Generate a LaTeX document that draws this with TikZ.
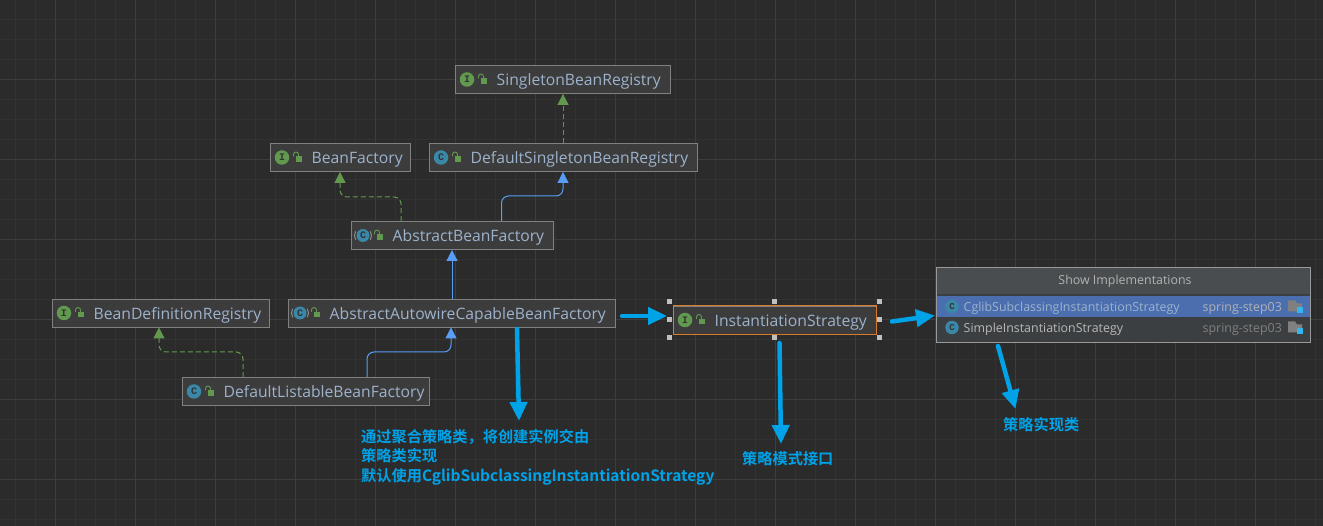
\documentclass[tikz,border=0pt]{standalone}
\usepackage{fontspec}
\setmainfont{Open Sans}
\newfontfamily\cjkbold[BoldFont=Noto Sans CJK SC Bold]{Noto Sans CJK SC}
\newfontfamily\iconfont{Liberation Mono}
\usetikzlibrary{arrows.meta}
\definecolor{canvasbg}{HTML}{2B2B2B}
\definecolor{gridminor}{HTML}{323232}
\definecolor{gridmajor}{HTML}{3D3D3D}
\definecolor{boxfill}{HTML}{3C3C3C}
\definecolor{boxline}{HTML}{808080}
\definecolor{boxtext}{HTML}{9DB2CC}
\definecolor{implgreen}{HTML}{62994F}
\definecolor{extblue}{HTML}{589DF6}
\definecolor{noteblue}{HTML}{00A2E8}
\definecolor{classteal}{HTML}{3A87A8}
\definecolor{popupbody}{HTML}{3C3F41}
\definecolor{popuphead}{HTML}{4A4D4F}
\definecolor{popupsel}{HTML}{4B6EAF}
\definecolor{selorange}{HTML}{D97B29}
\tikzset{
	umlbox/.style={draw=boxline, fill=boxfill, line width=0.9pt, inner sep=0pt},
	umltext/.style={text=boxtext, font=\fontsize{15.7}{18}\selectfont, anchor=base west, inner sep=0pt},
	kindicon/.style={circle, minimum size=14.5pt, inner sep=0pt, text=black!80, font=\iconfont\fontsize{10}{10}\selectfont\bfseries},
	impl/.style={draw=implgreen, dashed, dash pattern=on 5pt off 3pt, line width=1pt, rounded corners=7pt, -{Triangle[width=11pt,length=11pt,fill=implgreen]}},
	ext/.style={draw=extblue, line width=1pt, rounded corners=7pt, -{Triangle[width=11pt,length=11pt,fill=extblue]}},
	note/.style={draw=noteblue, line width=4.5pt, line cap=round, -{Triangle[width=17pt,length=19pt,fill=noteblue]}},
	notetext/.style={text=noteblue, font=\cjkbold\fontsize{15.2}{19.5}\selectfont\bfseries, anchor=north west, align=left, inner sep=0pt},
	handle/.style={fill=black!25!white, minimum size=5pt, inner sep=0pt},
	popuptext/.style={font=\fontsize{12.4}{14}\selectfont, anchor=base west, inner sep=0pt}
}
\begin{document}
\begin{tikzpicture}[x=1pt, y=-1pt]
	\fill[canvasbg] (0,0) rectangle (1323,526);
	\useasboundingbox (0,0) rectangle (1323,526);

	% grid
	\foreach \gx in {0,...,66}
		\draw[gridminor, line width=0.8pt] (15.5+\gx*20,0) -- (15.5+\gx*20,526);
	\foreach \gy in {0,...,26}
		\draw[gridminor, line width=0.8pt] (0,19+\gy*20) -- (1323,19+\gy*20);
	\foreach \gx in {0,...,15}
		\draw[gridmajor, line width=0.8pt] (55.5+\gx*80,0) -- (55.5+\gx*80,526);
	\foreach \gy in {0,...,5}
		\draw[gridmajor, line width=0.8pt] (0,79+\gy*80) -- (1323,79+\gy*80);

	% boxes
	\foreach \nm/\xl/\xr/\yt/\kind/\txt in {
		sbr/455.5/670.5/65.5/I/SingletonBeanRegistry,
		dsbr/429.5/697/143.5/C/DefaultSingletonBeanRegistry,
		bf/270.5/410/143.5/I/BeanFactory,
		abf/351.5/553/221.5/A/AbstractBeanFactory,
		bdr/52.5/269/299/I/BeanDefinitionRegistry,
		aacbf/288.5/615/299/A/AbstractAutowireCapableBeanFactory,
		dlbf/182.5/429.5/377.5/C/DefaultListableBeanFactory,
		is/673.5/876/306/I/InstantiationStrategy}
	{
		\node[umlbox, minimum width=\xr pt-\xl pt, minimum height=28pt] (\nm) at ({(\xl+\xr)/2},\yt+14) {};
		\if\kind I
			\node[kindicon, fill=implgreen] (\nm icon) at (\xl+11.5,\yt+14) {I};
		\else
			\if\kind C
				\node[kindicon, fill=classteal] (\nm icon) at (\xl+11.5,\yt+14) {C};
			\else
				\node[kindicon, fill=classteal, minimum size=13pt] (\nm icon) at (\xl+11.5,\yt+14) {C};
				\draw[black!45!white, line width=1pt] (\xl+11.5,\yt+14) ++(150:8.5) arc (150:210:8.5);
				\draw[black!45!white, line width=1pt] (\xl+11.5,\yt+14) ++(30:8.5) arc (30:-30:8.5);
			\fi
		\fi
		% lock
		\fill[implgreen] (\xl+25,\yt+13) rectangle (\xl+31.5,\yt+18.5);
		\draw[implgreen, line width=0.9pt] (\xl+23,\yt+13) -- (\xl+23,\yt+11) arc (180:360:2.5) -- (\xl+28,\yt+13);
		\node[umltext] (\nm text) at (\xl+41,\yt+20.5) {\txt};
	}

	% selected node
	\draw[draw=selorange, line width=0.9pt] (is.south west) rectangle (is.north east);
	\foreach \hx/\hy/\hn in {669/302/a, 774/302/b, 879/302/c, 669/320/d, 879/320/e, 669/338/f, 774/338/g, 879/338/h}
		\node[handle] (handle\hn) at (\hx,\hy) {};

	% inheritance
	\draw[impl] (dsbr.north -| 563,0) -- (sbr.south -| 563,0);
	\draw[ext] (abf.north -| 501.5,0) -- (501.5,196) -| (dsbr.south -| 563,0);
	\draw[impl] (abf.north -| 401,0) -- (401,197) -| (bf.south -| 340,0);
	\draw[ext] (aacbf.north -| 452,0) -- (abf.south -| 452,0);
	\draw[impl] (dlbf.north -| 243,0) -- (243,352) -| (bdr.south -| 159,0);
	\draw[ext] (dlbf.north -| 367,0) -- (367,352) -| (aacbf.south -| 451,0);

	% popup
	\fill[popupbody] (936.5,267) rectangle (1310,342);
	\fill[popuphead] (936.5,267) rectangle (1310,294);
	\fill[popupsel] (936.5,296) rectangle (1310,317);
	\draw[black!40!white, line width=0.9pt] (936.5,267) rectangle (1310,342);
	\node[popuptext, text=black!30!white, anchor=center] (popuptitle) at (1125,281) {Show Implementations};
	\foreach \ry/\rt/\rc/\rf in {306.5/CglibSubclassingInstantiationStrategy/boxtext/black!30!white, 327.5/SimpleInstantiationStrategy/black!28!white/black!50!white} {
		\node[kindicon, fill=classteal, minimum size=13.5pt, font=\iconfont\fontsize{9}{9}\selectfont\bfseries] (icon\ry) at (952,\ry) {C};
		\node[popuptext, text=\rc] (row\ry) at (963.5,\ry+5) {\rt};
		\node[popuptext, text=\rf] (mod\ry) at (1202.5,\ry+5) {spring-step03};
		\fill[black!50!white] (1288,\ry-6) -- (1295,\ry-6) -- (1297,\ry-3) -- (1302,\ry-3) -- (1302,\ry+5) -- (1288,\ry+5) -- cycle;
		\fill[noteblue!80!white] (1297,\ry+1) rectangle (1303,\ry+7);
	}

	% notes
	\coordinate (isleft) at (667,316);
	\coordinate (popupleft) at (935,315.5);
	\coordinate (note1tip) at (519,421);
	\coordinate (note2tip) at (781,444);
	\coordinate (note3tip) at (1015.5,409);
	\draw[note] (622,316) -- (isleft);
	\draw[note] (892,321.5) -- (popupleft);
	\draw[note] (517,329) -- (note1tip);
	\draw[note] (779.5,343) -- (note2tip);
	\draw[note] (998,346) -- (note3tip);

	\node[notetext] (note1) at (361,429) {通过聚合策略类，将创建实例交由\\策略类实现\\默认使用{\fontsize{15.5}{19.5}\selectfont CglibSubclassingInstantiationStrategy}};
	\node[notetext] (note2) at (742,451) {策略模式接口};
	\node[notetext] (note3) at (1003,417) {策略实现类};
\end{tikzpicture}
\end{document}
